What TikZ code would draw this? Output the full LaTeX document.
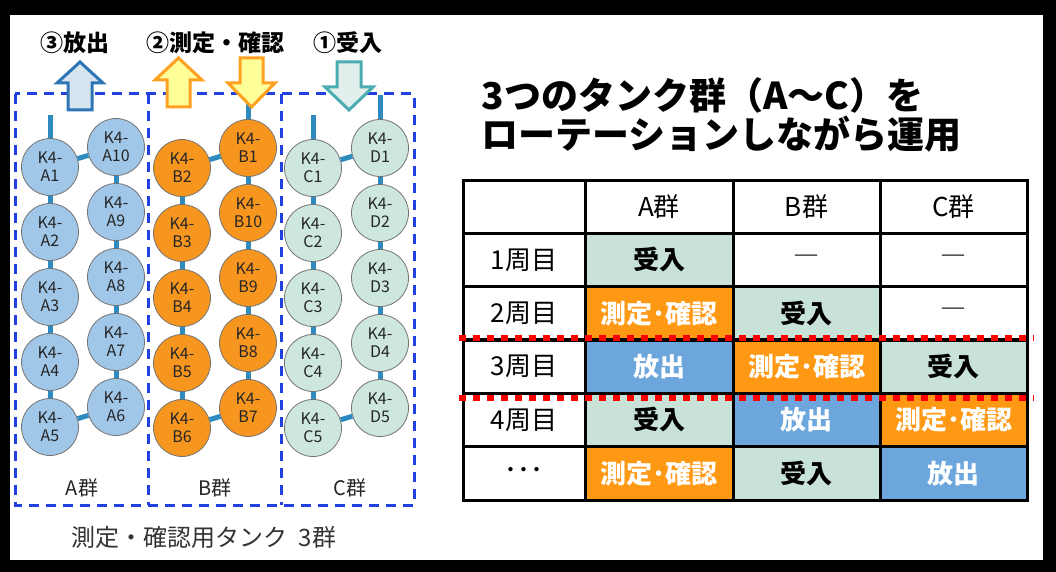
\documentclass[tikz,border=0pt]{standalone}
\usepackage{fontspec}
\newfontfamily\jpfont{Noto Sans CJK JP}
\definecolor{pipeblue}{RGB}{46,139,192}
\definecolor{dashblue}{RGB}{32,64,224}
\definecolor{colA}{RGB}{160,198,232}
\definecolor{colB}{RGB}{247,150,30}
\definecolor{colC}{RGB}{205,230,222}
\definecolor{cellgreen}{RGB}{200,226,216}
\definecolor{cellorange}{RGB}{255,153,20}
\definecolor{cellblue}{RGB}{108,166,220}
\definecolor{arrowblue}{RGB}{46,117,182}
\definecolor{arrowbluefill}{RGB}{214,228,240}
\definecolor{arroworange}{RGB}{255,160,32}
\definecolor{arrowyellow}{RGB}{255,255,153}
\definecolor{arrowteal}{RGB}{75,172,178}
\definecolor{arrowtealfill}{RGB}{226,239,236}
\begin{document}
\begin{tikzpicture}[x=1pt, y=-1pt,
    tank/.style={circle, draw=black!55, line width=0.8pt, minimum size=57pt, inner sep=0pt,
                 align=center, text=black!85, font=\jpfont\fontsize{16}{18}\selectfont},
    tankA/.style={tank, fill=colA}, tankB/.style={tank, fill=colB}, tankC/.style={tank, fill=colC},
    pipe/.style={draw=pipeblue, line width=5pt},
    groupbox/.style={draw=dashblue, line width=3pt, dash pattern=on 10pt off 7pt},
    blockarrow/.style={line width=3pt, line join=miter},
    toplabel/.style={font=\jpfont\bfseries\fontsize{23}{26}\selectfont},
    grouplabel/.style={font=\jpfont\fontsize{20}{22}\selectfont, text=black!85},
    titletext/.style={font=\jpfont\bfseries\fontsize{37}{40}\selectfont, anchor=base west},
    cellbox/.style={draw, line width=3pt, inner sep=0pt, minimum height=53.33pt,
                 font=\jpfont\fontsize{26}{28}\selectfont},
    colzero/.style={cellbox, minimum width=122pt},
    colone/.style={cellbox, minimum width=148pt},
    coltwo/.style={cellbox, minimum width=147pt},
    ukeire/.style={fill=cellgreen, font=\jpfont\bfseries\fontsize{26}{28}\selectfont},
    sokutei/.style={fill=cellorange, text=white, font=\jpfont\bfseries\fontsize{26}{28}\selectfont},
    hoshutsu/.style={fill=cellblue, text=white, font=\jpfont\bfseries\fontsize{26}{28}\selectfont},
    reddots/.style={draw=red, line width=6pt, dash pattern=on 7pt off 7pt}]

  % frame
  \fill[black] (0,0) rectangle (1056,572);
  \fill[white] (10,15) rectangle (1043,560);

  % tank groups
  \draw[groupbox] (15,94) rectangle (414,505);
  \draw[groupbox] (148,94) -- (148,505);
  \draw[groupbox] (281,94) -- (281,505);

  \foreach \n [count=\i from 0] in {A1,A2,A3,A4,A5}
    \node[tankA] (\n) at (50,167+65*\i) {K4-\\\n};
  \foreach \n [count=\i from 0] in {A10,A9,A8,A7,A6}
    \node[tankA] (\n) at (116,147+65*\i) {K4-\\\n};
  \foreach \n [count=\i from 0] in {B2,B3,B4,B5,B6}
    \node[tankB] (\n) at (182,168+65*\i) {K4-\\\n};
  \foreach \n [count=\i from 0] in {B1,B10,B9,B8,B7}
    \node[tankB] (\n) at (248,148+65*\i) {K4-\\\n};
  \foreach \n [count=\i from 0] in {C1,C2,C3,C4,C5}
    \node[tankC] (\n) at (313,168+65*\i) {K4-\\\n};
  \foreach \n [count=\i from 0] in {D1,D2,D3,D4,D5}
    \node[tankC] (\n) at (380,148+65*\i) {K4-\\\n};

  % pipes
  \foreach \p/\q in {A1/A2, A2/A3, A3/A4, A4/A5, A5/A6, A6/A7, A7/A8, A8/A9, A9/A10, A10/A1,
      B1/B2, B2/B3, B3/B4, B4/B5, B5/B6, B6/B7, B7/B8, B8/B9, B9/B10, B10/B1,
      C1/C2, C2/C3, C3/C4, C4/C5, C5/D5, D5/D4, D4/D3, D3/D2, D2/D1, D1/C1}
    \draw[pipe] (\p) -- (\q);
  \coordinate (inA1) at (50,115);
  \coordinate (inB1) at (248,103);
  \coordinate (inC1) at (313,115);
  \coordinate (inD1) at (380,95);
  \foreach \n in {A1,B1,C1,D1}
    \draw[pipe] (in\n) -- (\n);

  % arrows
  \draw[blockarrow, draw=arrowblue, fill=arrowbluefill]
    (80,62) -- (103,83) -- (92,83) -- (92,110) -- (68,110) -- (68,83) -- (57,83) -- cycle;
  \draw[blockarrow, draw=arroworange, fill=arrowyellow]
    (178.5,58) -- (202,80) -- (190,80) -- (190,107) -- (167,107) -- (167,80) -- (155,80) -- cycle;
  \draw[blockarrow, draw=arroworange, fill=arrowyellow]
    (240,58) -- (263,58) -- (263,83) -- (275,83) -- (251.5,107) -- (228,83) -- (240,83) -- cycle;
  \draw[blockarrow, draw=arrowteal, fill=arrowtealfill]
    (337,62) -- (361,62) -- (361,87) -- (373,87) -- (349,110) -- (325,87) -- (337,87) -- cycle;

  \node[toplabel] (release) at (75,43) {③放出};
  \node[toplabel] (check) at (215,43) {②測定・確認};
  \node[toplabel] (receive) at (348,43) {①受入};

  \node[grouplabel] (gA) at (82,488) {A群};
  \node[grouplabel] (gB) at (215,488) {B群};
  \node[grouplabel] (gC) at (350,488) {C群};
  \node[font=\jpfont\fontsize{24}{26}\selectfont, text=black!80] (caption) at (204,537)
    {測定・確認用タンク\hspace{0.45em}3群};

  % title
  \node[titletext] (title1) at (478,110) {3つのタンク群（A〜C）を};
  \node[titletext] (title2) at (478,149) {ローテーションしながら運用};

  % table
  \node[colzero] (h0) at (524,206.67) {};
  \node[colone] (h1) at (659,206.67) {A群};
  \node[coltwo] (h2) at (806.5,206.67) {B群};
  \node[coltwo] (h3) at (953.5,206.67) {C群};

  \node[colzero] (w1) at (524,260) {1周目};
  \node[colone, ukeire] (a1) at (659,260) {受入};
  \node[coltwo] (b1) at (806.5,260) {\raisebox{-4pt}{―}};
  \node[coltwo] (c1) at (953.5,260) {\raisebox{-4pt}{―}};

  \node[colzero] (w2) at (524,313.33) {2周目};
  \node[colone, sokutei] (a2) at (659,313.33) {測定･確認};
  \node[coltwo, ukeire] (b2) at (806.5,313.33) {受入};
  \node[coltwo] (c2) at (953.5,313.33) {\raisebox{-4pt}{―}};

  \node[colzero] (w3) at (524,366.67) {3周目};
  \node[colone, hoshutsu] (a3) at (659,366.67) {放出};
  \node[coltwo, sokutei] (b3) at (806.5,366.67) {測定･確認};
  \node[coltwo, ukeire] (c3) at (953.5,366.67) {受入};

  \node[colzero] (w4) at (524,420) {4周目};
  \node[colone, ukeire] (a4) at (659,420) {受入};
  \node[coltwo, hoshutsu] (b4) at (806.5,420) {放出};
  \node[coltwo, sokutei] (c4) at (953.5,420) {測定･確認};

  \node[colzero] (w5) at (524,473.33) {･･･};
  \node[colone, sokutei] (a5) at (659,473.33) {測定･確認};
  \node[coltwo, ukeire] (b5) at (806.5,473.33) {受入};
  \node[coltwo, hoshutsu] (c5) at (953.5,473.33) {放出};

  \draw[reddots] (459,338) -- (1034,338);
  \draw[reddots] (459,398) -- (1034,398);
\end{tikzpicture}
\end{document}
